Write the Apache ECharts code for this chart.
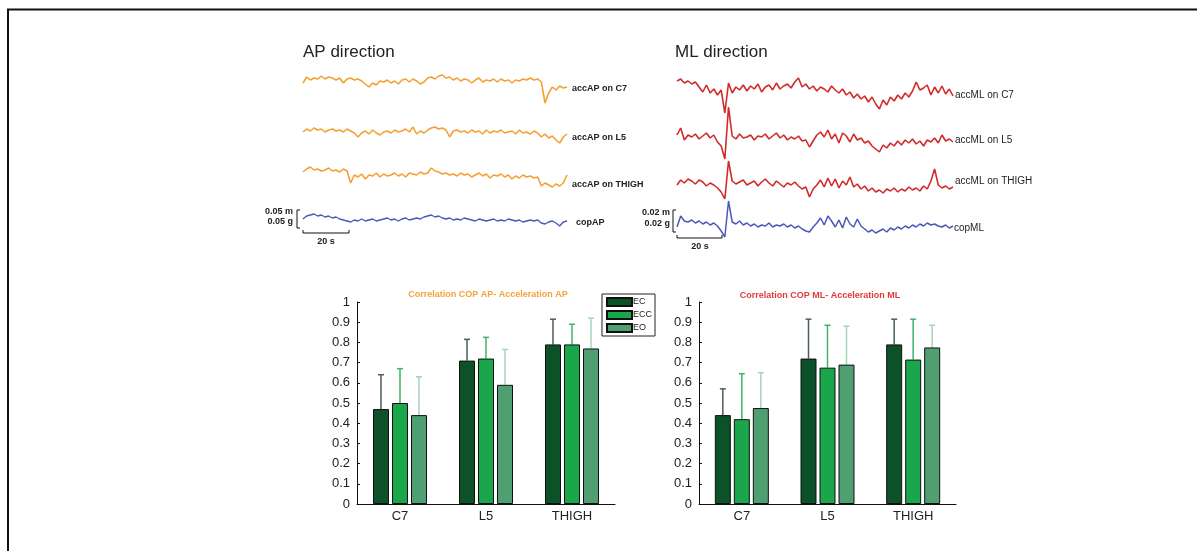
<!DOCTYPE html>
<html>
<head>
<meta charset="utf-8">
<title>AP / ML correlation</title>
<script src="https://cdn.jsdelivr.net/npm/echarts@6/dist/echarts.min.js"></script>
<style>
    html, body { margin: 0; padding: 0; background: #fff; }
    #chart { width: 1197px; height: 551px; }
</style>
</head>
<body>
<div id="chart"></div>
<script>
    // raw traces, arbitrary units
    var accApC7 = [-2, 4, 1, 3, 2, 5, 2, 4, 3, 1, 3, -2, 2, 3, 1, 2, 0, -3, -6, -2, -4, 0, -1, 1, -2, 0, -3, 1, 2, -1,
        2, 0, -3, -1, 3, 4, 2, 5, 6, 3, 4, 1, 3, 0, 2, 1, -2, 1, 3, -1, 1, 0, 2, -1, 2, 0, 1, -2, 1, 0,
        2, 1, 3, 1, 2, -1, -22, -12, -6, -9, -5, -7, -6];
    var accApL5 = [-1, 2, 0, 3, 1, 2, -1, 1, 2, 0, 1, -1, 2, 0, -2, -6, -2, 0, -3, 1, -2, -4, -1, 0, -2, 1, -1, 0, 2, -1,
        4, -3, 0, -2, 1, 3, 4, 2, 3, 1, -6, 0, 1, -1, 0, -2, 1, -1, 0, -3, 1, -2, 0, -1, 1, -2, -1, 0, -3, 1,
        -2, -1, -3, 0, -2, -6, -3, -7, -5, -9, -12, -6, -3];
    var accApThigh = [0, 3, 5, 2, 3, 1, 2, 4, 1, 2, 0, 3, 1, -11, -3, -5, -2, -7, -3, -4, -1, -5, -2, -4, -3, -1, -4, -2, -5, -1,
        -2, -3, 0, -2, -1, 4, 1, 0, -2, -1, -3, -2, -4, -1, -3, -2, -5, -3, -1, -4, -2, -6, -3, -4, -2, -5, -3, -7, -4, -6,
        -3, -5, -4, -6, -5, -14, -11, -13, -15, -12, -14, -11, -3];
    var copAp = [-1, 2, 3, 4, 2, 3, 1, 2, 0, 1, -1, -2, -3, -4, -2, -3, -1, -3, -2, -1, -3, -2, -1, 0, -2, -1, -3, -1, 0, -2,
        -1, 0, -1, 1, 2, 3, 1, 2, 0, -1, 0, -2, -1, -2, 0, -1, -2, -3, -1, -2, -3, -2, -1, -3, -2, -3, -1, -2, -3, -2,
        -4, -3, -2, -3, -2, -5, -6, -4, -3, -5, -8, -4, -3];

    var accMlC7 = [6, 8, 4, 6, 3, 5, 0, -5, 2, -6, -2, -8, -3, -26, 4, -6, 0, -3, 2, -4, 1, -2, 3, -5, 0, 2, -3, 4, -2, 1,
        3, -1, 5, 9, 0, 3, -2, 1, -4, 0, -2, -5, 1, -3, -6, -2, -8, -5, -11, -7, -12, -9, -15, -10, -17, -22, -13, -18, -10, -14,
        -8, -12, -6, -10, -4, 5, -3, -1, 2, -8, 0, -6, 1, -7, -2, -9];
    var accMlL5 = [2, 9, -3, 2, 0, 3, -2, 1, 4, -1, 2, -5, -9, -22, 30, 1, -2, 3, -1, 0, 2, -3, 1, 0, 3, -2, 1, 4, -1, 2,
        -3, 0, -2, 1, -4, -3, -10, -4, 2, 5, 0, 7, -2, 3, -6, 4, 1, -5, 3, -3, -1, -6, -4, -9, -12, -15, -8, -11, -6, -9,
        -4, -8, -3, -6, -2, -7, -4, -9, -3, -5, -1, -6, 2, -4, -2, -5];
    var accMlThigh = [-2, 3, 0, 4, 2, -1, 3, 1, -3, 0, -2, -5, -9, -16, 22, 2, -1, 1, 3, -2, 0, 2, -3, 1, 4, 0, -3, 2, -1, -4,
        0, -2, 1, -3, -6, -4, -14, -6, -2, 3, -4, 5, -3, 4, -5, 2, -2, 6, -4, -1, -6, -3, -8, -5, -9, -7, -10, -6, -8, -5,
        -9, -6, -8, -4, -7, -5, -8, -3, -6, 2, 14, -2, -5, -3, -6, -4];
    var copMl = [-4, 7, 2, 1, 3, 0, 2, -1, 1, -2, 0, -3, -8, -14, 22, 1, -1, 2, -2, 0, -3, -1, -4, -2, -3, 0, -4, -2, -3, -1,
        -4, -2, -5, -3, -6, -8, -9, -4, 0, 5, -2, 7, 2, -4, 3, -5, 6, -1, -4, 4, -3, -6, -9, -7, -10, -8, -6, -9, -5, -7,
        -4, -6, -3, -5, -2, -4, -1, -3, 0, -2, -1, -3, -4, -2, -5, -3];

    // bar charts: mean correlation and upper error bound
    var sites = ['C7', 'L5', 'THIGH'];
    var conditions = ['EC', 'ECC', 'EO'];
    var apMean = {
        EC: [0.47, 0.71, 0.79],
        ECC: [0.50, 0.72, 0.79],
        EO: [0.44, 0.59, 0.77]
    };
    var apUpper = {
        EC: [0.64, 0.815, 0.915],
        ECC: [0.67, 0.825, 0.89],
        EO: [0.63, 0.765, 0.92]
    };
    var mlMean = {
        EC: [0.44, 0.72, 0.79],
        ECC: [0.42, 0.675, 0.715],
        EO: [0.475, 0.69, 0.775]
    };
    var mlUpper = {
        EC: [0.57, 0.915, 0.915],
        ECC: [0.645, 0.885, 0.915],
        EO: [0.65, 0.88, 0.885]
    };
    var yTicks = [0, 0.1, 0.2, 0.3, 0.4, 0.5, 0.6, 0.7, 0.8, 0.9, 1];

    var barColors = { EC: '#0c5128', ECC: '#1aa64a', EO: '#509f72' };
    var errColors = { EC: '#4b5e52', ECC: '#3fb466', EO: '#a3d4bc' };
    var FONT = '"Liberation Sans", Arial, sans-serif';

    var BAR_W = 16;
    var BAR_GAP = 3;

    var traces = [
        { data: accApC7, color: '#f4a032', left: 303, width: 264, mid: 81, lw: 1.6 },
        { data: accApL5, color: '#f4a032', left: 303, width: 264, mid: 131, lw: 1.6 },
        { data: accApThigh, color: '#f4a032', left: 303, width: 264, mid: 172, lw: 1.6 },
        { data: copAp, color: '#4d57b6', left: 303, width: 264, mid: 218, lw: 1.4 },
        { data: accMlC7, color: '#d22a2a', left: 677, width: 276, mid: 87, lw: 1.6 },
        { data: accMlL5, color: '#d22a2a', left: 677, width: 276, mid: 137, lw: 1.6 },
        { data: accMlThigh, color: '#d22a2a', left: 677, width: 276, mid: 183, lw: 1.6 },
        { data: copMl, color: '#4d57b6', left: 677, width: 276, mid: 223, lw: 1.5 }
    ];

    function errRender(offset, color) {
        return function (params, api) {
            var base = api.coord([api.value(0), api.value(1)]);
            var top = api.coord([api.value(0), api.value(2)]);
            var x = base[0] + offset;
            return {
                type: 'group',
                children: [
                    { type: 'line', shape: { x1: x, y1: base[1], x2: x, y2: top[1] }, style: { stroke: color, lineWidth: 1.5 } },
                    { type: 'line', shape: { x1: x - 3, y1: top[1], x2: x + 3, y2: top[1] }, style: { stroke: color, lineWidth: 1.5 } }
                ]
            };
        };
    }

    function textEl(str, x, y, opts) {
        opts = opts || {};
        return {
            type: 'text',
            x: x,
            y: y,
            style: {
                text: str,
                fill: opts.color || '#222',
                font: (opts.weight || 'normal') + ' ' + (opts.size || 9) + 'px ' + FONT,
                textAlign: opts.align || 'left',
                textVerticalAlign: 'middle'
            }
        };
    }

    function lineEl(points, width) {
        return {
            type: 'polyline',
            shape: { points: points },
            style: { stroke: '#111', lineWidth: width || 1, fill: null }
        };
    }

    function buildOption() {
        var grid = [], xAxis = [], yAxis = [], series = [];

        traces.forEach(function (t, i) {
            grid.push({ left: t.left, width: t.width, top: t.mid - 30, height: 60 });
            xAxis.push({
                gridIndex: i, type: 'category', boundaryGap: false, show: false,
                data: t.data.map(function (v, k) { return k; })
            });
            yAxis.push({ gridIndex: i, type: 'value', min: -30, max: 30, show: false });
            series.push({
                type: 'line', xAxisIndex: i, yAxisIndex: i, data: t.data,
                symbol: 'none', clip: false, silent: true,
                lineStyle: { color: t.color, width: t.lw }
            });
        });

        var bars = [
            { left: 357, width: 258, mean: apMean, upper: apUpper },
            { left: 699, width: 257, mean: mlMean, upper: mlUpper }
        ];
        bars.forEach(function (b, j) {
            var gi = traces.length + j;
            grid.push({ left: b.left, width: b.width, top: 302, height: 202 });
            xAxis.push({
                gridIndex: gi, type: 'category', data: sites,
                axisLine: { lineStyle: { color: '#111', width: 1 } },
                axisTick: { show: false },
                axisLabel: { color: '#222', fontSize: 13, fontFamily: FONT, margin: 6 }
            });
            yAxis.push({
                gridIndex: gi, type: 'value', min: 0, max: 1, interval: 0.1,
                axisLine: { show: true, lineStyle: { color: '#111', width: 1 } },
                axisTick: { show: true, inside: true, length: 3, lineStyle: { color: '#111' } },
                splitLine: { show: false },
                axisLabel: {
                    color: '#222', fontSize: 13, fontFamily: FONT, margin: 7,
                    formatter: function (v) { return yTicks.indexOf(Math.round(v * 10) / 10) >= 0 ? String(Math.round(v * 10) / 10) : ''; }
                }
            });
            conditions.forEach(function (c, k) {
                series.push({
                    name: c, type: 'bar', xAxisIndex: gi, yAxisIndex: gi,
                    data: b.mean[c], barWidth: BAR_W, barGap: (BAR_GAP / BAR_W * 100) + '%',
                    itemStyle: { color: barColors[c], borderColor: '#111', borderWidth: 1 },
                    silent: true
                });
            });
            conditions.forEach(function (c, k) {
                series.push({
                    type: 'custom', xAxisIndex: gi, yAxisIndex: gi, silent: true, z: 1,
                    renderItem: errRender((k - 1) * (BAR_W + BAR_GAP), errColors[c]),
                    data: sites.map(function (s, n) { return [n, b.mean[c][n], b.upper[c][n]]; })
                });
            });
        });

        var graphic = [
            // frame
            lineEl([[7, 9.5], [1197, 9.5]], 2),
            lineEl([[8, 9], [8, 551]], 2),

            textEl('AP direction', 303, 52, { size: 17 }),
            textEl('ML direction', 675, 52, { size: 17 }),

            textEl('accAP on C7', 572, 89, { weight: 'bold' }),
            textEl('accAP on L5', 572, 138, { weight: 'bold' }),
            textEl('accAP on THIGH', 572, 185, { weight: 'bold' }),
            textEl('copAP', 576, 223, { weight: 'bold' }),

            textEl('accML on C7', 955, 95, { size: 10 }),
            textEl('accML on L5', 955, 140, { size: 10 }),
            textEl('accML on THIGH', 955, 181, { size: 10 }),
            textEl('copML', 954, 228, { size: 10 }),

            // scale bars
            lineEl([[300, 210], [297, 210], [297, 228], [300, 228]]),
            lineEl([[303, 230], [303, 233], [349, 233], [349, 230]]),
            textEl('0.05 m', 293, 212, { align: 'right', weight: 'bold' }),
            textEl('0.05 g', 293, 222, { align: 'right', weight: 'bold' }),
            textEl('20 s', 326, 242, { align: 'center', weight: 'bold' }),

            lineEl([[676, 210], [673, 210], [673, 232], [676, 232]]),
            lineEl([[677, 235], [677, 238], [722, 238], [722, 235]]),
            textEl('0.02 m', 670, 213, { align: 'right', weight: 'bold' }),
            textEl('0.02 g', 670, 224, { align: 'right', weight: 'bold' }),
            textEl('20 s', 700, 247, { align: 'center', weight: 'bold' }),

            textEl('Correlation COP AP- Acceleration AP', 488, 295, { align: 'center', weight: 'bold', color: '#f5a23a' }),
            textEl('Correlation COP ML- Acceleration ML', 820, 296, { align: 'center', weight: 'bold', color: '#e0393b' })
        ];

        return {
            animation: false,
            backgroundColor: '#fff',
            grid: grid,
            xAxis: xAxis,
            yAxis: yAxis,
            series: series,
            legend: {
                data: conditions,
                orient: 'vertical',
                left: 602,
                top: 294,
                padding: [3, 3, 3, 4],
                itemWidth: 25,
                itemHeight: 8,
                itemGap: 3,
                icon: 'rect',
                borderColor: '#222',
                borderWidth: 1,
                selectedMode: false,
                textStyle: { fontSize: 9, fontFamily: FONT, color: '#222', padding: [0, 0, 0, -4] }
            },
            graphic: graphic
        };
    }

    var chart = echarts.init(document.getElementById('chart'));
    chart.setOption(buildOption());

    window.addEventListener('resize', function () {
        chart.resize();
    });
</script>
</body>
</html>
